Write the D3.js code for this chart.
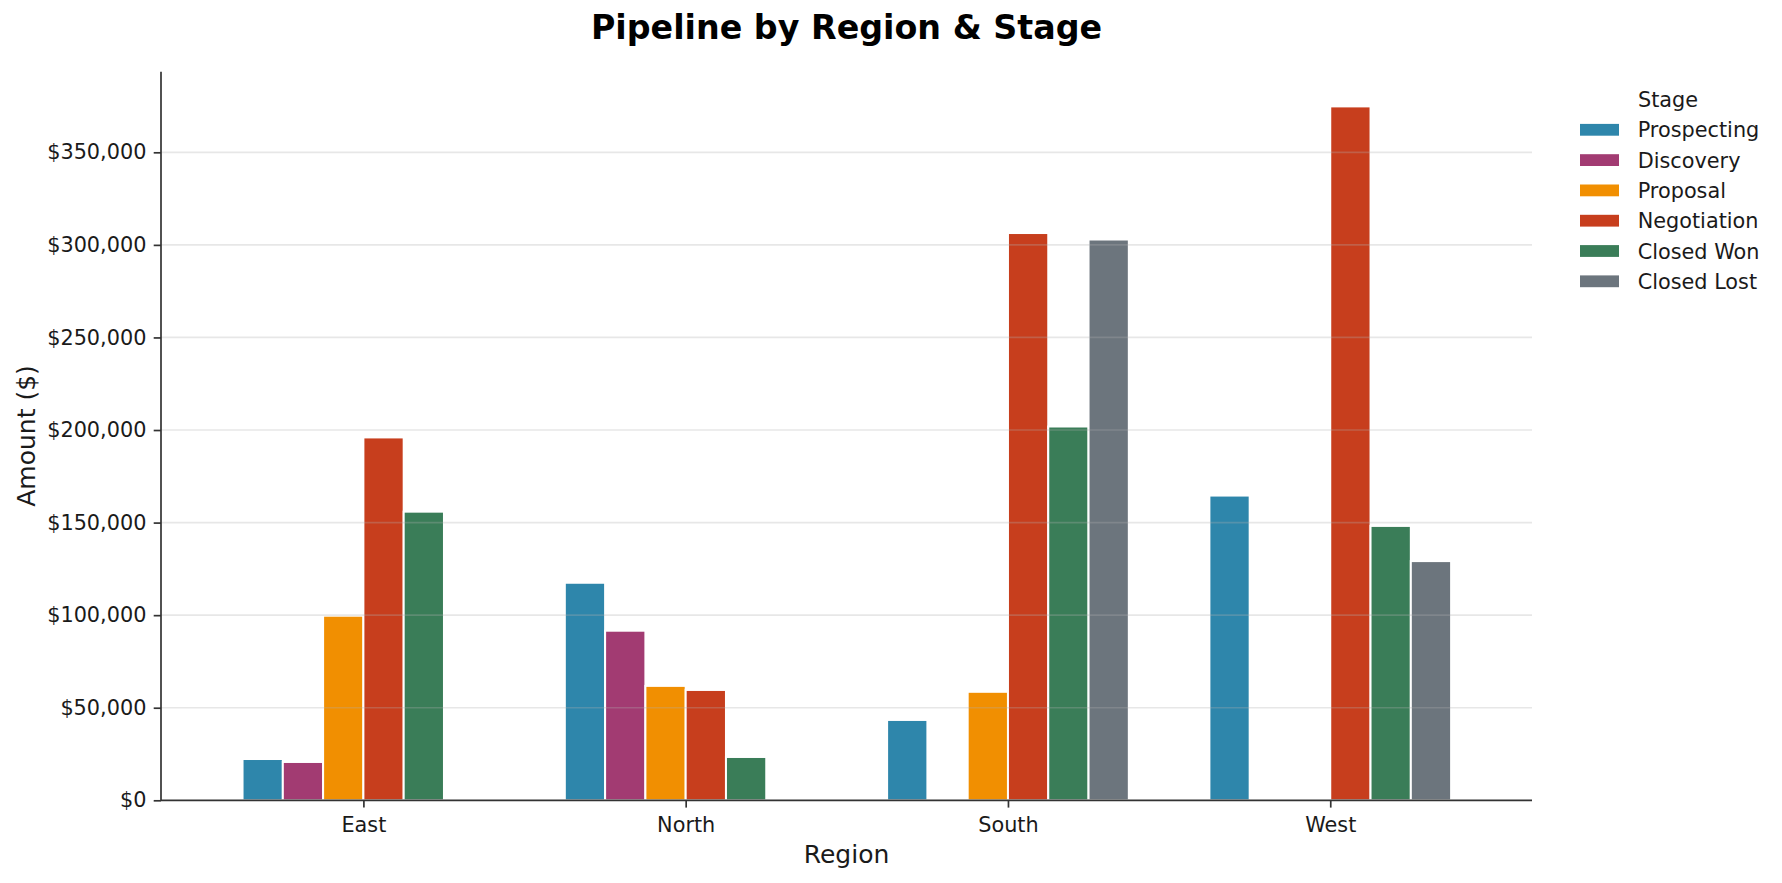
<!DOCTYPE html>
<html>
<head>
<meta charset="utf-8">
<script src="https://cdn.jsdelivr.net/npm/d3@7"></script>
<style>
  html, body { margin: 0; padding: 0; background: #ffffff; }
  svg { display: block; font-family: "DejaVu Sans", sans-serif; }
</style>
</head>
<body>
<svg id="chart" width="1782" height="883"></svg>
<script>
// ---- data ----
const regions = ["East", "North", "South", "West"];
const stages = ["Prospecting", "Discovery", "Proposal", "Negotiation", "Closed Won", "Closed Lost"];
const stageColors = ["#2E86AB", "#A23B72", "#F18F01", "#C73E1D", "#3A7D58", "#6C757D"];
// values per stage, in region order (East, North, South, West); null = no bar
const prospecting = [22300, 117500, 43400, 164600];
const discovery   = [20700, 91600, null, null];
const proposal    = [99700, 61800, 58600, null];
const negotiation = [196000, 59600, 306400, 374800];
const closedWon   = [155900, 23400, 201900, 148200];
const closedLost  = [null, null, 302900, 129200];
const yTickValues = [0, 50000, 100000, 150000, 200000, 250000, 300000, 350000];
const chartTitle = "Pipeline by Region & Stage";
const xTitle = "Region";
const yTitle = "Amount ($)";
const legendTitle = "Stage";

const seriesValues = [prospecting, discovery, proposal, negotiation, closedWon, closedLost];

// ---- layout ----
const plot = { left: 161, right: 1532, top: 71.7, bottom: 800.3 };
const svg = d3.select("#chart");
const tickFont = 20.8, labelFont = 25, titleFont = 33.3;
const axisColor = "#333333";

const x = d3.scaleLinear().domain([-0.628, 3.626]).range([plot.left, plot.right]);
const maxVal = d3.max(seriesValues.flat().filter(v => v != null));
const y = d3.scaleLinear().domain([0, maxVal * 1.05]).range([plot.bottom, plot.top]);
const barW = 0.125;

// bars
const bars = [];
seriesValues.forEach((vals, s) => {
  vals.forEach((v, r) => {
    if (v != null) bars.push({ s, r, v });
  });
});
svg.append("g").selectAll("rect").data(bars).join("rect")
  .attr("x", d => x(d.r + (d.s - 3) * barW))
  .attr("width", d => x(d.r + (d.s - 2) * barW) - x(d.r + (d.s - 3) * barW))
  .attr("y", d => y(d.v))
  .attr("height", d => y(0) - y(d.v))
  .attr("fill", d => stageColors[d.s])
  .attr("stroke", "#ffffff")
  .attr("stroke-width", 2);

// grid lines (drawn over bars, translucent)
svg.append("g").selectAll("line").data(yTickValues.filter(v => v > 0)).join("line")
  .attr("x1", plot.left).attr("x2", plot.right)
  .attr("y1", d => y(d)).attr("y2", d => y(d))
  .attr("stroke", "#b0b0b0").attr("stroke-opacity", 0.3).attr("stroke-width", 1.7);

// y axis
const yAxis = d3.axisLeft(y).tickValues(yTickValues)
  .tickFormat(d => "$" + d3.format(",")(d))
  .tickSize(7.3).tickPadding(7.3).tickSizeOuter(0);
const gy = svg.append("g").attr("transform", `translate(${plot.left},0)`).call(yAxis);
gy.select(".domain").attr("stroke", axisColor).attr("stroke-width", 1.7)
  .attr("d", `M0,${plot.top}V${plot.bottom}`);
gy.selectAll(".tick line").attr("stroke", axisColor).attr("stroke-width", 1.7);
gy.selectAll(".tick text").attr("font-size", tickFont).attr("fill", "#1a1a1a")
  .attr("font-family", "DejaVu Sans");

// x axis
const xAxis = d3.axisBottom(x).tickValues(d3.range(regions.length))
  .tickFormat(i => regions[i]).tickSize(7.3).tickPadding(7.3).tickSizeOuter(0);
const gx = svg.append("g").attr("transform", `translate(0,${plot.bottom})`).call(xAxis);
gx.select(".domain").attr("stroke", axisColor).attr("stroke-width", 1.7)
  .attr("d", `M${plot.left},0H${plot.right}`);
gx.selectAll(".tick line").attr("stroke", axisColor).attr("stroke-width", 1.7);
gx.selectAll(".tick text").attr("font-size", tickFont).attr("fill", "#1a1a1a")
  .attr("font-family", "DejaVu Sans").attr("dy", null).attr("y", 31.5);

const cx = (plot.left + plot.right) / 2;
// title
svg.append("text").attr("x", cx).attr("y", 39.3).attr("text-anchor", "middle")
  .attr("font-size", titleFont).attr("font-weight", "bold").attr("fill", "#000")
  .text(chartTitle);
// axis titles
svg.append("text").attr("x", cx).attr("y", 863.3).attr("text-anchor", "middle")
  .attr("font-size", labelFont).attr("fill", "#1a1a1a").text(xTitle);
svg.append("text")
  .attr("transform", `translate(35,${(plot.top + plot.bottom) / 2}) rotate(-90)`)
  .attr("text-anchor", "middle").attr("font-size", labelFont).attr("fill", "#1a1a1a")
  .text(yTitle);

// legend
const lg = svg.append("g");
lg.append("text").attr("x", 1668).attr("y", 106.7).attr("text-anchor", "middle")
  .attr("font-size", tickFont).attr("fill", "#1a1a1a").text(legendTitle);
const rows = lg.selectAll("g.row").data(stages).join("g").attr("class", "row")
  .attr("transform", (d, i) => `translate(0,${129.8 + 30.3 * i})`);
rows.append("rect").attr("x", 1580).attr("y", -5.9).attr("width", 39).attr("height", 11.8)
  .attr("fill", (d, i) => stageColors[i]);
rows.append("text").attr("x", 1637.7).attr("y", 7.5)
  .attr("font-size", tickFont).attr("fill", "#1a1a1a").text(d => d);
</script>
</body>
</html>
